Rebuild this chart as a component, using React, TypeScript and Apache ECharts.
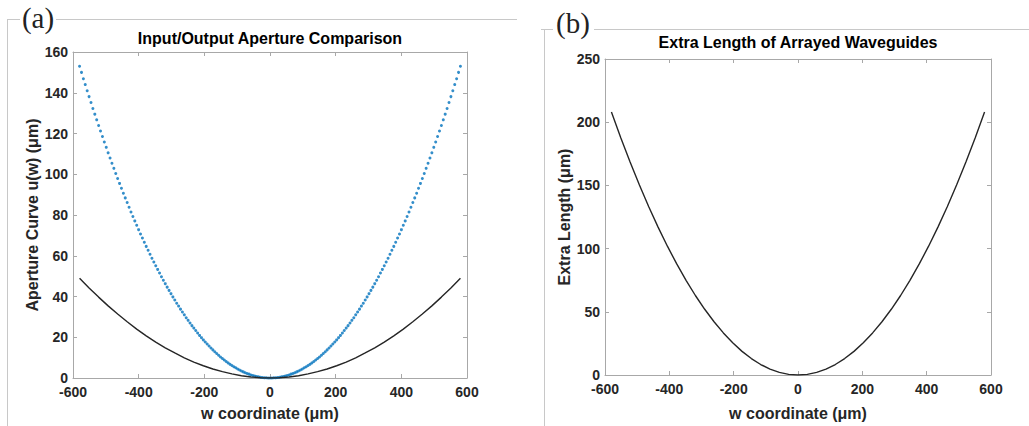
import React, { useEffect, useRef } from "react";
import * as echarts from "echarts";

// Panel (a): dense sampling of the input aperture (blue dots)
const wDense = [
  -580, -574.2, -568.4, -562.6, -556.8, -551, -545.2, -539.4, -533.6, -527.8,
  -522, -516.2, -510.4, -504.6, -498.8, -493, -487.2, -481.4, -475.6, -469.8,
  -464, -458.2, -452.4, -446.6, -440.8, -435, -429.2, -423.4, -417.6, -411.8,
  -406, -400.2, -394.4, -388.6, -382.8, -377, -371.2, -365.4, -359.6, -353.8,
  -348, -342.2, -336.4, -330.6, -324.8, -319, -313.2, -307.4, -301.6, -295.8,
  -290, -284.2, -278.4, -272.6, -266.8, -261, -255.2, -249.4, -243.6, -237.8,
  -232, -226.2, -220.4, -214.6, -208.8, -203, -197.2, -191.4, -185.6, -179.8,
  -174, -168.2, -162.4, -156.6, -150.8, -145, -139.2, -133.4, -127.6, -121.8,
  -116, -110.2, -104.4, -98.6, -92.8, -87, -81.2, -75.4, -69.6, -63.8,
  -58, -52.2, -46.4, -40.6, -34.8, -29, -23.2, -17.4, -11.6, -5.8,
  0,
  5.8, 11.6, 17.4, 23.2, 29, 34.8, 40.6, 46.4, 52.2, 58,
  63.8, 69.6, 75.4, 81.2, 87, 92.8, 98.6, 104.4, 110.2, 116,
  121.8, 127.6, 133.4, 139.2, 145, 150.8, 156.6, 162.4, 168.2, 174,
  179.8, 185.6, 191.4, 197.2, 203, 208.8, 214.6, 220.4, 226.2, 232,
  237.8, 243.6, 249.4, 255.2, 261, 266.8, 272.6, 278.4, 284.2, 290,
  295.8, 301.6, 307.4, 313.2, 319, 324.8, 330.6, 336.4, 342.2, 348,
  353.8, 359.6, 365.4, 371.2, 377, 382.8, 388.6, 394.4, 400.2, 406,
  411.8, 417.6, 423.4, 429.2, 435, 440.8, 446.6, 452.4, 458.2, 464,
  469.8, 475.6, 481.4, 487.2, 493, 498.8, 504.6, 510.4, 516.2, 522,
  527.8, 533.6, 539.4, 545.2, 551, 556.8, 562.6, 568.4, 574.2, 580,
];

const uInput = [
  153.0, 150.0, 146.9, 144.0, 141.0, 138.1, 135.2, 132.3, 129.5, 126.7,
  123.9, 121.2, 118.5, 115.8, 113.2, 110.5, 108.0, 105.4, 102.9, 100.4,
  97.9, 95.5, 93.1, 90.7, 88.4, 86.1, 83.8, 81.5, 79.3, 77.1,
  75.0, 72.8, 70.7, 68.7, 66.6, 64.6, 62.7, 60.7, 58.8, 56.9,
  55.1, 53.3, 51.5, 49.7, 48.0, 46.3, 44.6, 43.0, 41.4, 39.8,
  38.3, 36.7, 35.3, 33.8, 32.4, 31.0, 29.6, 28.3, 27.0, 25.7,
  24.5, 23.3, 22.1, 20.9, 19.8, 18.7, 17.7, 16.7, 15.7, 14.7,
  13.8, 12.9, 12.0, 11.2, 10.3, 9.6, 8.8, 8.1, 7.4, 6.7,
  6.1, 5.5, 5.0, 4.4, 3.9, 3.4, 3.0, 2.6, 2.2, 1.9,
  1.5, 1.2, 1.0, 0.7, 0.6, 0.4, 0.2, 0.1, 0.1, 0.0,
  0,
  0.0, 0.1, 0.1, 0.2, 0.4, 0.6, 0.7, 1.0, 1.2, 1.5,
  1.9, 2.2, 2.6, 3.0, 3.4, 3.9, 4.4, 5.0, 5.5, 6.1,
  6.7, 7.4, 8.1, 8.8, 9.6, 10.3, 11.2, 12.0, 12.9, 13.8,
  14.7, 15.7, 16.7, 17.7, 18.7, 19.8, 20.9, 22.1, 23.3, 24.5,
  25.7, 27.0, 28.3, 29.6, 31.0, 32.4, 33.8, 35.3, 36.7, 38.3,
  39.8, 41.4, 43.0, 44.6, 46.3, 48.0, 49.7, 51.5, 53.3, 55.1,
  56.9, 58.8, 60.7, 62.7, 64.6, 66.6, 68.7, 70.7, 72.8, 75.0,
  77.1, 79.3, 81.5, 83.8, 86.1, 88.4, 90.7, 93.1, 95.5, 97.9,
  100.4, 102.9, 105.4, 108.0, 110.5, 113.2, 115.8, 118.5, 121.2, 123.9,
  126.7, 129.5, 132.3, 135.2, 138.1, 141.0, 144.0, 146.9, 150.0, 153.0,
];

// Coarser sampling for the solid curves
const wLine = [
  -580, -551, -522, -493, -464, -435, -406, -377, -348, -319,
  -290, -261, -232, -203, -174, -145, -116, -87, -58, -29,
  0,
  29, 58, 87, 116, 145, 174, 203, 232, 261, 290,
  319, 348, 377, 406, 435, 464, 493, 522, 551, 580,
];

const uOutput = [
  49.0, 44.2, 39.7, 35.4, 31.4, 27.6, 24.0, 20.7, 17.6, 14.8,
  12.3, 9.9, 7.8, 6.0, 4.4, 3.1, 2.0, 1.1, 0.5, 0.1,
  0,
  0.1, 0.5, 1.1, 2.0, 3.1, 4.4, 6.0, 7.8, 9.9, 12.3,
  14.8, 17.6, 20.7, 24.0, 27.6, 31.4, 35.4, 39.7, 44.2, 49.0,
];

const extraLength = [
  208.0, 187.7, 168.5, 150.3, 133.1, 117.0, 101.9, 87.9, 74.9, 62.9,
  52.0, 42.1, 33.3, 25.5, 18.7, 13.0, 8.3, 4.7, 2.1, 0.5,
  0,
  0.5, 2.1, 4.7, 8.3, 13.0, 18.7, 25.5, 33.3, 42.1, 52.0,
  62.9, 74.9, 87.9, 101.9, 117.0, 133.1, 150.3, 168.5, 187.7, 208.0,
];

const titleA = "Input/Output Aperture Comparison";
const titleB = "Extra Length of Arrayed Waveguides";
const xNameText = "w coordinate (μm)";
const yNameA = "Aperture Curve u(w) (μm)";
const yNameB = "Extra Length (μm)";

const AX = "#a8a8a8";
const LBL = "#262626";
const FONT = "'Liberation Sans', Arial, Helvetica, sans-serif";

function mkAxes(gridIndex: number, ymax: number, yint: number, xName: string, yName: string, xGap: number) {
  const lineStyle = { color: AX, width: 1 };
  const tick = { show: true, inside: true, length: 4, lineStyle };
  const label = { color: LBL, fontWeight: "bold" as const, fontSize: 14, fontFamily: FONT };
  const nameStyle = { color: LBL, fontWeight: "bold" as const, fontSize: 16, fontFamily: FONT };
  const xAxes = [
    {
      type: "value", gridIndex, min: -600, max: 600, interval: 200, position: "bottom",
      axisLine: { show: true, onZero: false, lineStyle }, axisTick: tick,
      axisLabel: { ...label, margin: 7 }, splitLine: { show: false },
      name: xName, nameLocation: "middle", nameGap: xGap, nameTextStyle: nameStyle,
    },
    {
      type: "value", gridIndex, min: -600, max: 600, interval: 200, position: "top",
      axisLine: { show: true, onZero: false, lineStyle }, axisTick: tick,
      axisLabel: { show: false }, splitLine: { show: false },
    },
  ];
  const yAxes = [
    {
      type: "value", gridIndex, min: 0, max: ymax, interval: yint, position: "left",
      axisLine: { show: true, onZero: false, lineStyle }, axisTick: tick,
      axisLabel: { ...label, margin: 5 }, splitLine: { show: false },
      name: yName, nameLocation: "middle", nameGap: 32, nameTextStyle: nameStyle,
    },
    {
      type: "value", gridIndex, min: 0, max: ymax, interval: yint, position: "right",
      axisLine: { show: true, onZero: false, lineStyle }, axisTick: tick,
      axisLabel: { show: false }, splitLine: { show: false },
    },
  ];
  return { xAxes, yAxes };
}

export default function App() {
  const ref = useRef<HTMLDivElement>(null);
  useEffect(() => {
    const chart = echarts.init(ref.current!, null, { renderer: "svg" });
    const a = mkAxes(0, 160, 20, xNameText, yNameA, 27);
    const b = mkAxes(1, 250, 50, xNameText, yNameB, 30);
    const frame = { stroke: "#c8c8c8", lineWidth: 1 };
    const option = {
      animation: false,
      backgroundColor: "#ffffff",
      grid: [
        { left: 73, top: 52, width: 394, height: 328 },
        { left: 605, top: 59, width: 386, height: 322 },
      ],
      xAxis: [...a.xAxes, ...b.xAxes],
      yAxis: [...a.yAxes, ...b.yAxes],
      series: [
        {
          type: "scatter", xAxisIndex: 0, yAxisIndex: 0,
          data: wDense.map((w, i) => [w, uInput[i]]),
          symbol: "circle", symbolSize: 3,
          itemStyle: { color: "#0072BD" },
          silent: true,
        },
        {
          type: "line", xAxisIndex: 0, yAxisIndex: 0,
          data: wLine.map((w, i) => [w, uOutput[i]]),
          showSymbol: false, symbol: "none", smooth: false,
          lineStyle: { color: "#262626", width: 1.4 },
        },
        {
          type: "line", xAxisIndex: 2, yAxisIndex: 2,
          data: wLine.map((w, i) => [w, extraLength[i]]),
          showSymbol: false, symbol: "none", smooth: false,
          lineStyle: { color: "#262626", width: 1.4 },
        },
      ],
      graphic: [
        { type: "line", shape: { x1: 7, y1: 19.5, x2: 20, y2: 19.5 }, style: frame, silent: true },
        { type: "line", shape: { x1: 56, y1: 19.5, x2: 517, y2: 19.5 }, style: frame, silent: true },
        { type: "line", shape: { x1: 7.5, y1: 19, x2: 7.5, y2: 426 }, style: frame, silent: true },
        { type: "line", shape: { x1: 541, y1: 29.5, x2: 553, y2: 29.5 }, style: frame, silent: true },
        { type: "line", shape: { x1: 594, y1: 29.5, x2: 1029, y2: 29.5 }, style: frame, silent: true },
        { type: "line", shape: { x1: 544.5, y1: 29, x2: 544.5, y2: 426 }, style: frame, silent: true },
        {
          type: "text", x: 38, y: 18,
          style: { text: "(a)", font: "29px 'Liberation Serif', 'Times New Roman', serif", fill: "#222", align: "center", verticalAlign: "middle", textAlign: "center", textVerticalAlign: "middle" },
        },
        {
          type: "text", x: 573, y: 23,
          style: { text: "(b)", font: "29px 'Liberation Serif', 'Times New Roman', serif", fill: "#222", align: "center", verticalAlign: "middle", textAlign: "center", textVerticalAlign: "middle" },
        },
        {
          type: "text", x: 270, y: 38,
          style: { text: titleA, font: `bold 16px ${FONT}`, fill: "#000", align: "center", verticalAlign: "middle", textAlign: "center", textVerticalAlign: "middle" },
        },
        {
          type: "text", x: 798, y: 42,
          style: { text: titleB, font: `bold 16px ${FONT}`, fill: "#000", align: "center", verticalAlign: "middle", textAlign: "center", textVerticalAlign: "middle" },
        },
      ],
    };
    chart.setOption(option as any);
    return () => chart.dispose();
  }, []);
  return (
    <div
      ref={ref}
      style={{ position: "absolute", left: 0, top: 0, width: 1029, height: 426, background: "#fff" }}
    />
  );
}
